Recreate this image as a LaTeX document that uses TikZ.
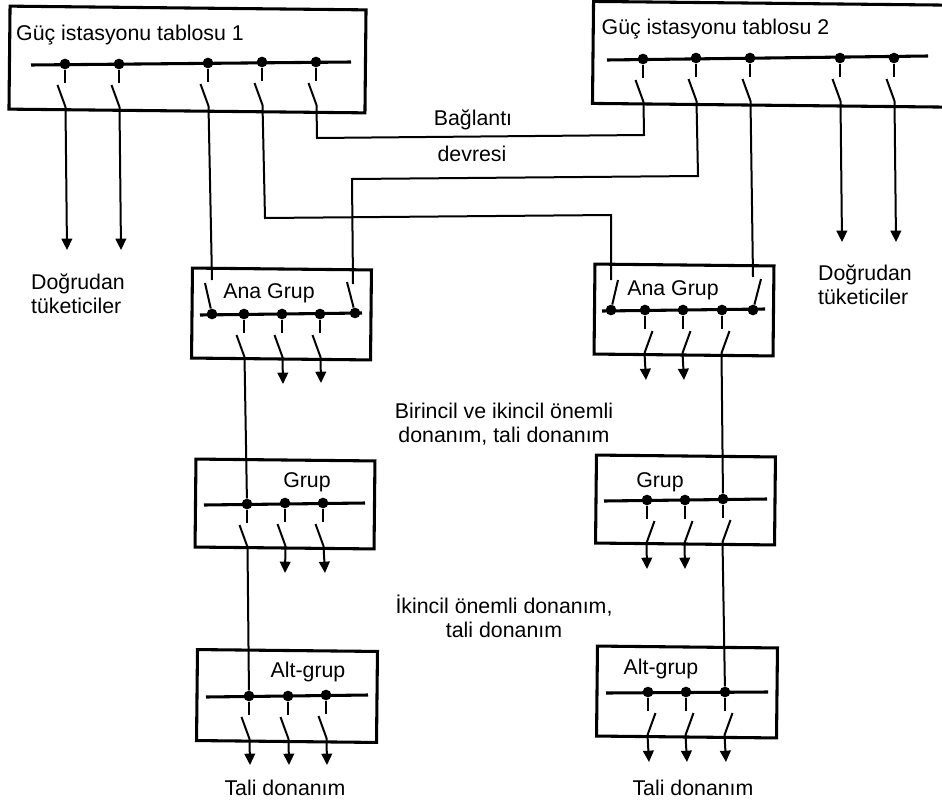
\documentclass[tikz,border=0pt]{standalone}
\usepackage{fontspec}
\setmainfont{Liberation Sans}
\usetikzlibrary{arrows.meta, positioning, calc}

% junction on a bus, its stub and the blade under it
\newcommand{\brleft}[2]{%
  \node[jdot] (#1) at (#2) {};
  \draw[stub] (#1) -- ++(0,19);
  \draw[wire] ($(#1)+(-7.5,21)$) -- ($(#1)+(0.5,43)$) coordinate (#1e);
}
\newcommand{\brright}[2]{%
  \node[jdot] (#1) at (#2) {};
  \draw[stub] (#1) -- ++(0,19);
  \draw[wire] ($(#1)+(7.5,21)$) -- ($(#1)+(-0.5,43)$) coordinate (#1e);
}

\begin{document}
\begin{tikzpicture}[x=0.75pt, y=-0.75pt,
  panel/.style={draw, line width=2.3pt, inner sep=0pt, rotate=-0.6},
  bus/.style={line width=2.3pt},
  wire/.style={line width=1.5pt},
  stub/.style={line width=1.7pt},
  feed/.style={line width=1.5pt, -{Triangle[width=8pt, length=8.5pt]}},
  jdot/.style={circle, fill=black, minimum size=8pt, inner sep=0pt},
  lbl/.style={font=\fontsize{16}{18}\selectfont, inner sep=0pt, align=center},
]
\useasboundingbox (0,0) rectangle (942,803);

% Station boards
\node[panel, minimum width=356*0.75pt, minimum height=103*0.75pt] (board1) at (187.5,59.5) {};
\node[panel, minimum width=380*0.75pt, minimum height=102*0.75pt] (board2) at (783,54.4) {};
\node[lbl] (board1txt) at (130,35) {Güç istasyonu tablosu 1};
\node[lbl] (board2txt) at (715.5,29) {Güç istasyonu tablosu 2};
\draw[bus] (31,65) -- (351,62);
\draw[bus] (607,60) -- (928,56);

\brleft{a1}{65,64}
\brleft{a2}{119,64}
\brleft{a3}{208,63}
\brleft{a4}{262,62}
\brleft{a5}{316,62}
\brleft{b1}{643,59}
\brleft{b2}{696,58}
\brleft{b3}{750,58}
\brleft{b4}{840,58}
\brleft{b5}{894,58}

% Direct consumers
\coordinate (a1t) at (67,250);
\coordinate (a2t) at (121,250);
\coordinate (b4t) at (842,242);
\coordinate (b5t) at (896,242);
\draw[feed] (a1e) -- (a1t);
\draw[feed] (a2e) -- (a2t);
\draw[feed] (b4e) -- (b4t);
\draw[feed] (b5e) -- (b5t);
\node[lbl, align=left] (cons1) at (78,294) {Doğrudan\\tüketiciler};
\node[lbl, align=left] (cons2) at (865,285) {Doğrudan\\tüketiciler};

% Main groups
\node[panel, minimum width=179*0.75pt, minimum height=90*0.75pt] (main1) at (281.5,314) {};
\node[panel, minimum width=179*0.75pt, minimum height=90*0.75pt] (main2) at (684,310) {};
\node[lbl] (main1txt) at (269,293) {Ana Grup};
\node[lbl] (main2txt) at (673,290) {Ana Grup};
\draw[bus] (200,315) -- (362,313);
\draw[bus] (602,311) -- (765,309);

\node[jdot] (m1l) at (212,314) {};
\node[jdot] (m1r) at (355,313) {};
\node[jdot] (m2l) at (611,310) {};
\node[jdot] (m2r) at (753,310) {};
\coordinate (m1lt) at (205,283);
\coordinate (m1rt) at (347,282);
\coordinate (m2lt) at (618,280);
\coordinate (m2rt) at (761,279);
\draw[wire] (m1lt) -- (m1l);
\draw[wire] (m1rt) -- (m1r);
\draw[wire] (m2lt) -- (m2l);
\draw[wire] (m2rt) -- (m2r);

\brleft{c1}{244,314}
\brleft{c2}{282,314}
\brleft{c3}{320,314}
\brright{d1}{645,310}
\brright{d2}{683,310}
\brright{d3}{722,310}
\coordinate (c2t) at (283,384);
\coordinate (c3t) at (321,383);
\coordinate (d1t) at (646,380);
\coordinate (d2t) at (684,380);
\draw[feed] (c2e) -- (c2t);
\draw[feed] (c3e) -- (c3t);
\draw[feed] (d1e) -- (d1t);
\draw[feed] (d2e) -- (d2t);

% Tie lines
\coordinate (m1in) at (212,280);
\coordinate (m1rin) at (353,284);
\coordinate (m2in) at (611,280);
\coordinate (m2rin) at (753,277);
\draw[wire] (a3e) -- (m1in);
\draw[wire] (a4e) -- (265,218) -- (611,215) -- (m2in);
\draw[wire] (a5e) -- (317,138) -- (644,135) -- (b1e);
\draw[wire] (b2e) -- (698,176) -- (352,179) -- (m1rin);
\draw[wire] (b3e) -- (m2rin);
\node[lbl] (tie1) at (473,120) {Bağlantı};
\node[lbl] (tie2) at (472,154) {devresi};

\node[lbl] (imp1) at (504,424) {Birincil ve ikincil önemli\\donanım, tali donanım};
\node[lbl] (imp2) at (504,616) {İkincil önemli donanım,\\tali donanım};

% Groups
\node[panel, minimum width=179*0.75pt, minimum height=88*0.75pt] (grp1) at (285,504) {};
\node[panel, minimum width=179*0.75pt, minimum height=88*0.75pt] (grp2) at (685.5,500) {};
\node[lbl] (grp1txt) at (307,482) {Grup};
\node[lbl] (grp2txt) at (660,482) {Grup};
\draw[bus] (204,505) -- (365,503);
\draw[bus] (604,501) -- (767,499);

\brleft{e1}{247,504}
\brleft{e2}{285,503}
\brleft{e3}{323,503}
\brright{f1}{647,500}
\brright{f2}{685,500}
\brright{f3}{723,499}
\draw[wire] (c1e) -- (e1);
\draw[wire] (d3e) -- (f3);
\coordinate (e2t) at (285,573);
\coordinate (e3t) at (325,573);
\coordinate (f1t) at (647,569);
\coordinate (f2t) at (685,569);
\draw[feed] (e2e) -- (e2t);
\draw[feed] (e3e) -- (e3t);
\draw[feed] (f1e) -- (f1t);
\draw[feed] (f2e) -- (f2t);

% Sub groups
\node[panel, minimum width=180*0.75pt, minimum height=91*0.75pt] (sub1) at (287,696) {};
\node[panel, minimum width=180*0.75pt, minimum height=90*0.75pt] (sub2) at (687,692) {};
\node[lbl] (sub1txt) at (308,672) {Alt-grup};
\node[lbl] (sub2txt) at (661,669) {Alt-grup};
\draw[bus] (206,697) -- (368,695);
\draw[bus] (606,693) -- (768,692);

\brleft{g1}{249,696}
\brleft{g2}{288,696}
\brleft{g3}{326,695}
\brright{h1}{648,692}
\brright{h2}{686,692}
\brright{h3}{725,692}
\draw[wire] (e1e) -- (g1);
\draw[wire] (f3e) -- (h3);
\coordinate (g1t) at (250,765);
\coordinate (g2t) at (289,765);
\coordinate (g3t) at (327,765);
\coordinate (h1t) at (649,762);
\coordinate (h2t) at (687,762);
\coordinate (h3t) at (726,762);
\draw[feed] (g1e) -- (g1t);
\draw[feed] (g2e) -- (g2t);
\draw[feed] (g3e) -- (g3t);
\draw[feed] (h1e) -- (h1t);
\draw[feed] (h2e) -- (h2t);
\draw[feed] (h3e) -- (h3t);
\node[lbl] (spare1) at (285,788) {Tali donanım};
\node[lbl] (spare2) at (693,788) {Tali donanım};
\end{tikzpicture}
\end{document}
